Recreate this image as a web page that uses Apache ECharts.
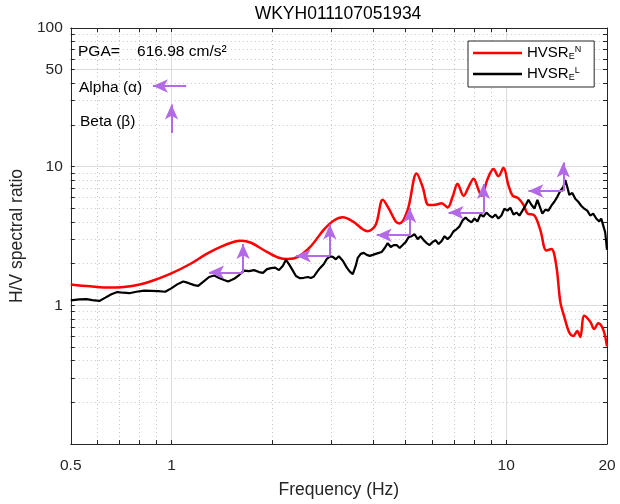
<!DOCTYPE html>
<html>
<head>
<meta charset="utf-8">
<script src="https://cdn.jsdelivr.net/npm/echarts@6/dist/echarts.min.js"></script>
<style>
  html, body { margin: 0; padding: 0; background: #ffffff; }
  #chart { width: 620px; height: 504px; }
</style>
</head>
<body>
<div id="chart"></div>
<script>
// HVSR curve (E/N), frequency in Hz and spectral ratio
const freqN = [0.5, 0.572, 0.657, 0.753, 0.864, 0.991, 1.137, 1.269, 1.407, 1.538,
  1.614, 1.728, 1.890, 2.080, 2.228, 2.386, 2.609, 2.852, 3.055, 3.249,
  3.480, 3.727, 3.857, 4.075, 4.276, 4.455, 4.675, 4.805, 5.076, 5.400,
  5.627, 5.864, 6.152, 6.411, 6.680, 6.914, 7.155, 7.456, 7.716, 7.985,
  8.264, 8.436, 8.791, 9.161, 9.481, 9.810, 10.15, 10.44, 10.87, 11.25,
  11.57, 12.14, 12.65, 13.18, 13.64, 14.11, 14.51, 14.91, 15.43, 15.86,
  16.30, 16.64, 17.10, 17.82, 18.32, 18.83, 19.49, 20];
const hvsrN = [1.416, 1.371, 1.342, 1.371, 1.487, 1.686, 1.987, 2.338, 2.647, 2.872,
  2.920, 2.826, 2.495, 2.212, 2.154, 2.237, 2.677, 3.516, 4.094, 4.320,
  4.027, 3.534, 3.420, 3.815, 5.768, 5.004, 4.027, 3.897, 4.875, 8.919,
  7.133, 5.290, 5.316, 5.448, 5.086, 6.058, 7.528, 6.158, 7.133, 8.193,
  6.791, 6.158, 8.126, 9.616, 8.534, 9.806, 7.370, 6.208, 5.911, 5.316,
  4.612, 4.441, 3.476, 2.487, 2.549, 1.931, 1.055, 0.826, 0.636, 0.601,
  0.652, 0.591, 0.840, 0.761, 0.674, 0.743, 0.668, 0.506];

// HVSR curve (E/L)
const freqL = [0.5, 0.5305, 0.5569, 0.5803, 0.6087, 0.6344, 0.6611, 0.6890, 0.7180, 0.7481,
  0.7848, 0.8292, 0.8700, 0.9128, 0.9577, 0.9980, 1.040, 1.084, 1.121, 1.169,
  1.201, 1.243, 1.295, 1.341, 1.387, 1.436, 1.476, 1.538, 1.592, 1.647,
  1.705, 1.764, 1.826, 1.876, 1.929, 1.983, 2.039, 2.094, 2.152, 2.197,
  2.243, 2.290, 2.353, 2.419, 2.486, 2.555, 2.609, 2.663, 2.718, 2.775,
  2.852, 2.912, 2.972, 3.034, 3.097, 3.161, 3.249, 3.340, 3.409, 3.480,
  3.552, 3.601, 3.676, 3.753, 3.831, 3.911, 3.992, 4.075, 4.160, 4.246,
  4.335, 4.425, 4.517, 4.611, 4.707, 4.804, 4.904, 5.006, 5.110, 5.217,
  5.325, 5.436, 5.549, 5.665, 5.782, 5.903, 6.025, 6.151, 6.279, 6.409,
  6.543, 6.679, 6.818, 6.959, 7.104, 7.252, 7.403, 7.557, 7.714, 7.874,
  8.038, 8.205, 8.376, 8.550, 8.728, 8.910, 9.095, 9.284, 9.477, 9.674,
  9.876, 10.08, 10.29, 10.51, 10.73, 10.95, 11.18, 11.41, 11.65, 11.89,
  12.14, 12.39, 12.56, 12.82, 13.09, 13.36, 13.64, 13.92, 14.21, 14.50,
  14.81, 15.01, 15.22, 15.43, 15.75, 16.08, 16.41, 16.75, 17.10, 17.46,
  17.82, 18.19, 18.57, 18.96, 19.22, 19.48, 19.75, 20];
const hvsrL = [1.085, 1.103, 1.108, 1.090, 1.076, 1.136, 1.203, 1.247, 1.233, 1.223,
  1.253, 1.278, 1.273, 1.267, 1.253, 1.326, 1.416, 1.487, 1.451, 1.398,
  1.382, 1.475, 1.601, 1.640, 1.575, 1.524, 1.487, 1.554, 1.654, 1.780,
  1.765, 1.794, 1.737, 1.714, 1.824, 1.854, 1.869, 1.794, 1.931, 2.131,
  1.980, 1.824, 1.627, 1.570, 1.580, 1.601, 1.575, 1.614, 1.737, 1.854,
  1.987, 2.166, 2.256, 2.237, 2.148, 2.256, 2.096, 1.869, 1.751, 1.681,
  1.931, 2.201, 2.350, 2.388, 2.311, 2.274, 2.311, 2.350, 2.388, 2.427,
  2.592, 2.812, 2.634, 2.721, 2.721, 2.592, 2.721, 2.858, 3.101, 3.152,
  3.257, 3.002, 3.152, 2.953, 2.812, 2.721, 2.858, 2.953, 2.766, 2.905,
  3.152, 3.002, 3.152, 3.420, 3.534, 3.711, 4.094, 4.299, 4.094, 3.961,
  4.229, 4.027, 4.514, 4.370, 4.665, 4.441, 4.299, 4.514, 4.229, 4.441,
  4.979, 4.819, 5.061, 4.514, 4.665, 4.441, 4.819, 5.229, 5.768, 5.316,
  4.979, 5.768, 5.960, 4.589, 4.899, 4.819, 5.229, 5.582, 6.058, 6.680,
  7.133, 7.996, 7.133, 6.259, 6.467, 5.863, 5.582, 5.229, 4.979, 4.819,
  4.441, 4.589, 4.229, 4.027, 4.229, 3.772, 3.365, 2.507];

// Alpha arrows: [start frequency, end frequency, ratio level]
const alphaArrows = [[1.636, 1.295, 1.731], [2.972, 2.353, 2.274], [5.146, 4.103, 3.204],
  [8.550, 6.725, 4.665], [14.81, 11.65, 6.680]];
// Beta arrows: [frequency, start ratio, end ratio]
const betaArrows = [[1.636, 1.731, 2.766], [2.972, 2.274, 3.834], [5.146, 3.204, 5.061],
  [8.550, 4.665, 7.491], [14.81, 6.680, 10.73]];
// key arrows beside the "Alpha" / "Beta" captions
const alphaKey = [1.106, 0.880, 38.15];
const betaKey = [1.0, 17.51, 28.12];

// axis ticks and grid positions
const xLabelTicks = [0.5, 1, 10, 20];
const xTickMarks = [0.5, 0.6, 0.7, 0.8, 0.9, 1, 2, 3, 4, 5, 6, 7, 8, 9, 10, 20];
const xMajorGrid = [1, 10];
const xMinorGrid = [0.6, 0.7, 0.8, 0.9, 2, 3, 4, 5, 6, 7, 8, 9];
const yLabelTicks = [1, 10, 50, 100];
const yTickMarks = [0.2, 0.3, 0.4, 0.5, 0.6, 0.7, 0.8, 0.9, 1, 2, 3, 4, 5, 6, 7, 8, 9,
  10, 20, 30, 40, 50, 60, 70, 80, 90, 100];
const yMajorGrid = [1, 10, 50];
const yMinorGrid = [0.2, 0.3, 0.4, 0.5, 0.6, 0.7, 0.8, 0.9, 2, 3, 4, 5, 6, 7, 8, 9,
  20, 30, 40, 60, 70, 80, 90];

const AX = '#262626';
const PURPLE = '#b36ae6';
const FONT = '"Liberation Sans", Arial, Helvetica, sans-serif';

const zip = (xs, ys) => xs.map((x, i) => [x, ys[i]]);

function logAxis(range, extra) {
  return Object.assign({
    type: 'log', logBase: 10, min: range[0], max: range[1],
    axisLine: { show: false },
    axisTick: { show: false },
    axisLabel: { show: false },
    splitLine: { show: false },
    axisPointer: { show: false },
    silent: true
  }, extra);
}

const xr = [0.5, 20], yr = [0.1, 100];
const frameLine = { show: true, onZero: false, lineStyle: { color: AX, width: 1 } };
const xTicks = { show: true, inside: true, length: 4, customValues: xTickMarks, lineStyle: { color: AX } };
const yTicks = { show: true, inside: true, length: 4, customValues: yTickMarks, lineStyle: { color: AX } };
const majorStyle = { show: true, lineStyle: { color: '#dcdcdc', width: 1, type: 'solid' } };
const minorStyle = { show: true, lineStyle: { color: '#c4c4c4', width: 1, type: [1, 3] } };
const fmt = v => String(+(+v).toPrecision(6));

const alphaLines = alphaArrows.map(a => [{ coord: [a[0], a[2]] }, { coord: [a[1], a[2]] }]);
const betaLines = betaArrows.map(b => [{ coord: [b[0], b[1]] }, { coord: [b[0], b[2]] }]);
alphaLines.push([{ coord: [alphaKey[0], alphaKey[2]] }, { coord: [alphaKey[1], alphaKey[2]] }]);
betaLines.push([{ coord: [betaKey[0], betaKey[1]] }, { coord: [betaKey[0], betaKey[2]] }]);

const legendNames = { 'HVSR_E^N': 'N', 'HVSR_E^L': 'L' };

const option = {
  animation: false,
  backgroundColor: '#ffffff',
  grid: { left: 69, top: 28, width: 538, height: 423, containLabel: false },
  xAxis: [
    logAxis(xr, {
      position: 'bottom',
      axisLine: frameLine, axisTick: xTicks,
      axisLabel: { show: true, customValues: xLabelTicks, color: AX, fontSize: 15.5,
        fontFamily: FONT, margin: 14, formatter: fmt, showMinLabel: true, showMaxLabel: true },
      name: 'Frequency (Hz)', nameLocation: 'middle', nameGap: 37,
      nameTextStyle: { fontSize: 17.5, color: AX, fontFamily: FONT }
    }),
    logAxis(xr, { position: 'top', axisLine: frameLine, axisTick: xTicks }),
    logAxis(xr, { position: 'bottom', axisTick: { show: false, customValues: xMinorGrid }, splitLine: minorStyle }),
    logAxis(xr, { position: 'bottom', axisTick: { show: false, customValues: xMajorGrid }, splitLine: majorStyle })
  ],
  yAxis: [
    logAxis(yr, {
      position: 'left',
      axisLine: frameLine, axisTick: yTicks,
      axisLabel: { show: true, customValues: yLabelTicks, color: AX, fontSize: 15.5,
        fontFamily: FONT, margin: 8, formatter: fmt, showMinLabel: true, showMaxLabel: true,
        padding: [3, 0, 0, 0] },
      name: 'H/V spectral ratio', nameLocation: 'middle', nameGap: 31,
      nameTextStyle: { fontSize: 17.5, color: AX, fontFamily: FONT }
    }),
    logAxis(yr, { position: 'right', axisLine: frameLine, axisTick: yTicks }),
    logAxis(yr, { position: 'left', axisTick: { show: false, customValues: yMinorGrid }, splitLine: minorStyle }),
    logAxis(yr, { position: 'left', axisTick: { show: false, customValues: yMajorGrid }, splitLine: majorStyle })
  ],
  legend: {
    data: ['HVSR_E^N', 'HVSR_E^L'],
    orient: 'vertical', left: 468, top: 41,
    padding: [4, 13, 5, 5], itemGap: 5,
    itemWidth: 49, itemHeight: 2.5, icon: 'rect',
    selectedMode: false,
    backgroundColor: '#ffffff', borderColor: AX, borderWidth: 1, borderRadius: 0,
    formatter: name => '{m|HVSR}{sub|E}{sup|' + legendNames[name] + '}',
    textStyle: {
      color: '#000', fontFamily: FONT, fontSize: 15, lineHeight: 16,
      rich: {
        m: { fontSize: 15, lineHeight: 16, fontFamily: FONT, color: '#000' },
        sub: { fontSize: 9, lineHeight: 2, verticalAlign: 'bottom', fontFamily: FONT, color: '#000' },
        sup: { fontSize: 9, lineHeight: 10, verticalAlign: 'top', fontFamily: FONT, color: '#000' }
      }
    }
  },
  graphic: [
    { type: 'text', x: 338, y: 14, silent: true,
      style: { text: 'WKYH011107051934', align: 'center', verticalAlign: 'middle',
        font: '17.5px ' + FONT, fill: '#000' } },
    { type: 'text', x: 78, y: 52, silent: true, z: 10,
      style: { text: 'PGA=    616.98 cm/s²', align: 'left', verticalAlign: 'middle',
        font: '15.5px ' + FONT, fill: '#000' } },
    { type: 'text', x: 79, y: 88, silent: true, z: 10,
      style: { text: 'Alpha (α)', align: 'left', verticalAlign: 'middle',
        font: '15.5px ' + FONT, fill: '#000' } },
    { type: 'text', x: 80, y: 122, silent: true, z: 10,
      style: { text: 'Beta (β)', align: 'left', verticalAlign: 'middle',
        font: '15.5px ' + FONT, fill: '#000' } }
  ],
  series: [
    {
      name: 'HVSR_E^N', type: 'line', xAxisIndex: 0, yAxisIndex: 0,
      data: zip(freqN, hvsrN), symbol: 'none', smooth: 0.35,
      color: '#ff0000', lineStyle: { color: '#ff0000', width: 2.5 },
      itemStyle: { color: '#ff0000' }, z: 3, silent: true
    },
    {
      name: 'HVSR_E^L', type: 'line', xAxisIndex: 0, yAxisIndex: 0,
      data: zip(freqL, hvsrL), symbol: 'none',
      color: '#000000', lineStyle: { color: '#000000', width: 2.2 },
      itemStyle: { color: '#000000' }, z: 4, silent: true
    },
    {
      name: 'arrows', type: 'line', xAxisIndex: 0, yAxisIndex: 0, data: [], z: 6,
      markLine: {
        silent: true, animation: false,
        symbol: ['none', 'arrow'], symbolSize: [10, 15],
        label: { show: false }, emphasis: { disabled: true },
        itemStyle: { color: PURPLE },
        lineStyle: { color: PURPLE, width: 2, type: 'solid' },
        data: alphaLines.concat(betaLines)
      }
    }
  ]
};

const chart = echarts.init(document.getElementById('chart'), null, { renderer: 'canvas' });
chart.setOption(option);
</script>
</body>
</html>
